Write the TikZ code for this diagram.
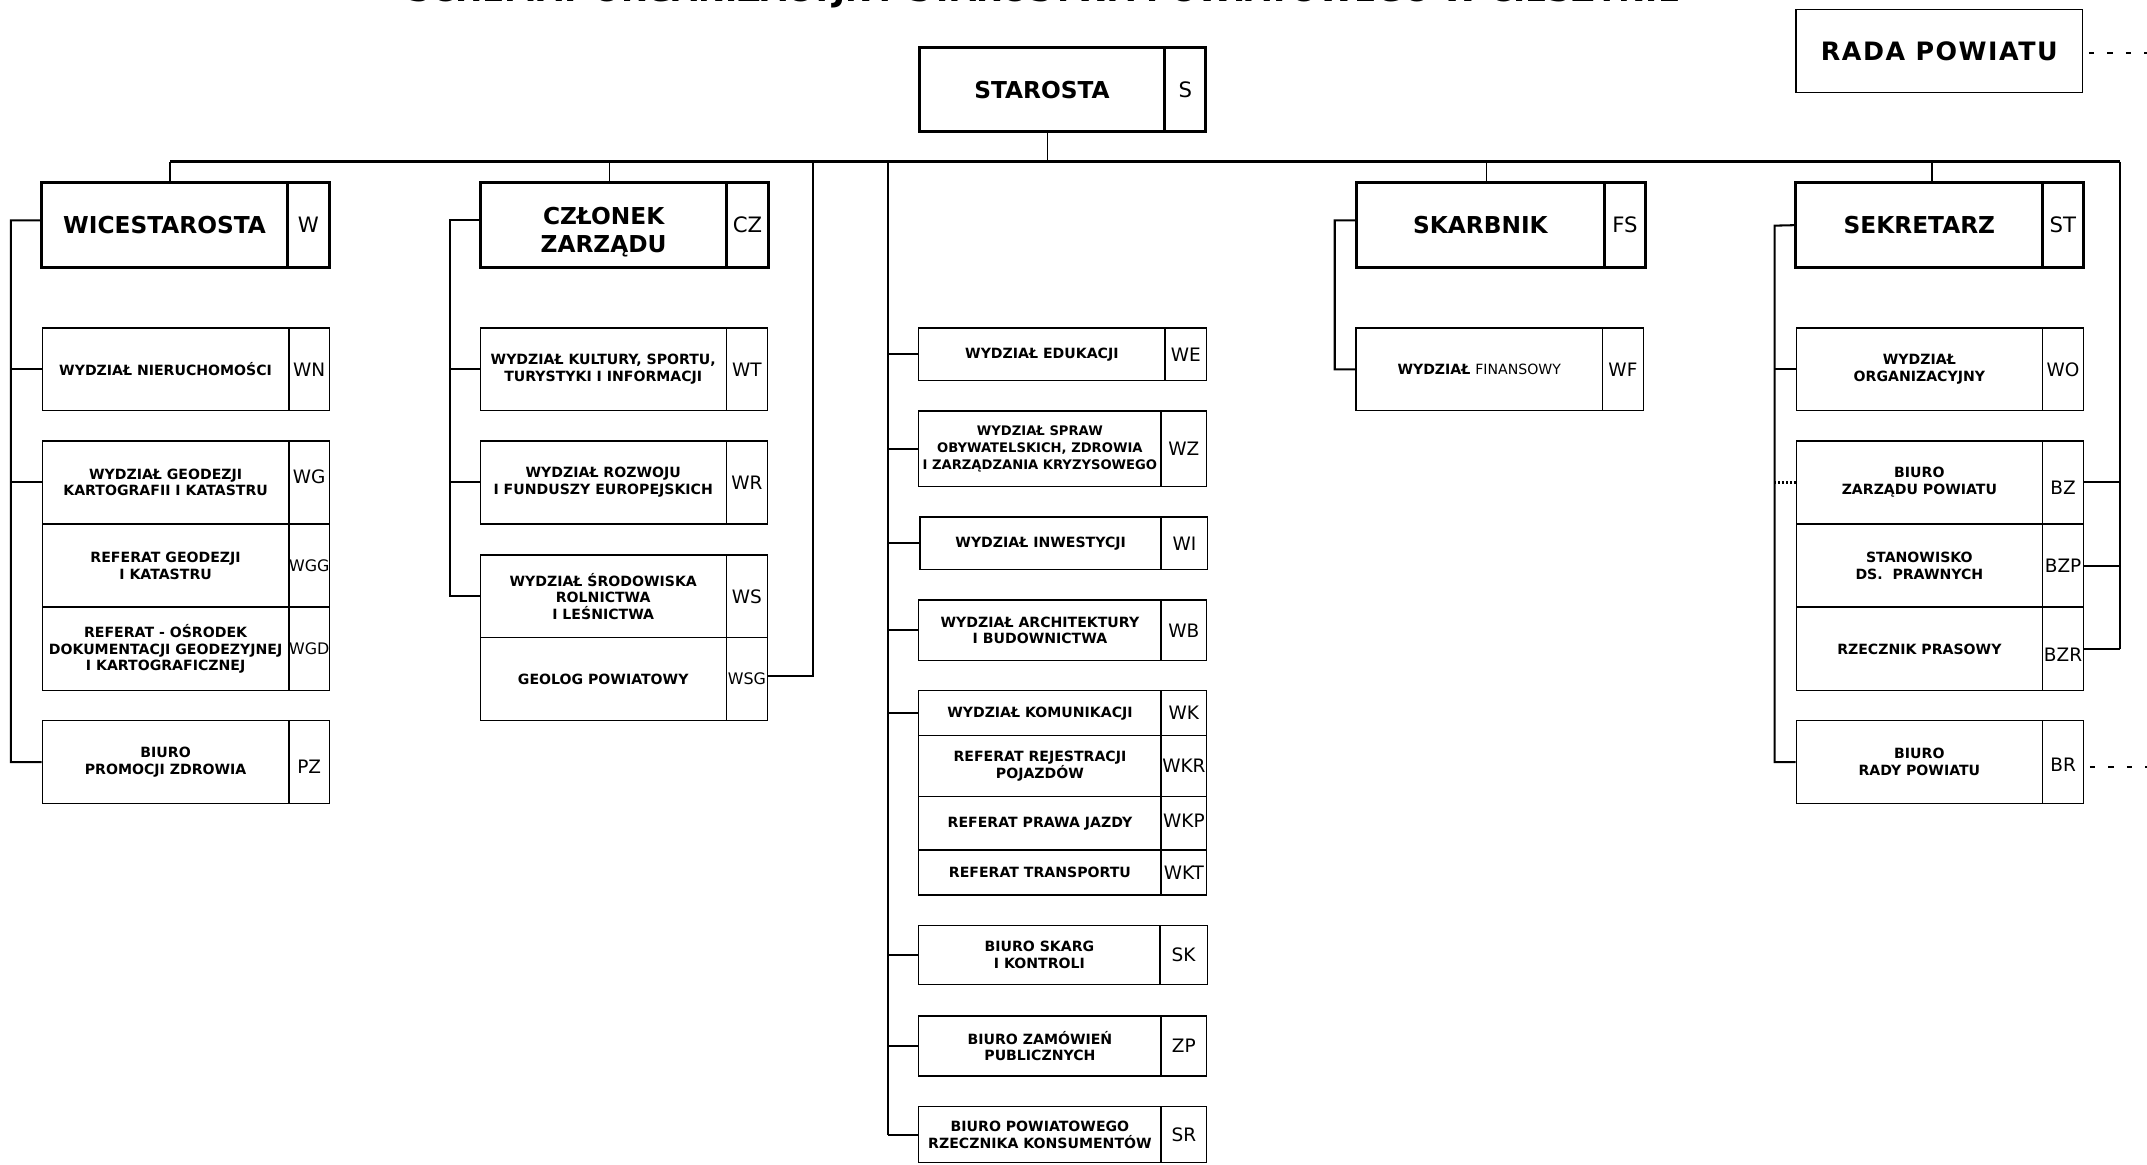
\documentclass[tikz,border=0pt]{standalone}
\usepackage{fontspec}
\setmainfont{DejaVu Sans}
\newcommand{\orgunit}[9]{%
  \node[#2, minimum width={#4-#3}, minimum height={#7-#6}] (#1) at ({(#3+#4)/2},{(#6+#7)/2}) {#8};
  \node[#2code, minimum width={#5-#4}, minimum height={#7-#6}] (#1c) at ({(#4+#5)/2},{(#6+#7)/2}) {#9};
}
\newcommand{\shiftc}[2]{\raisebox{#1}[\height][\depth]{#2}}
\newcommand{\smc}[1]{{\fontsize{11.6}{12}\selectfont #1}}
\tikzset{
  mb/.style={draw=black, line width=2.2pt, inner sep=0pt, align=center, font=\bfseries\fontsize{17}{20}\selectfont},
  mbcode/.style={draw=black, line width=2.2pt, inner sep=0pt, font=\fontsize{15.5}{16}\selectfont},
  mbz/.style={mb, text height=43pt},
  mbzcode/.style={mbcode},
  sb/.style={draw=black, line width=1pt, inner sep=0pt, align=center, font=\bfseries\fontsize{10.3}{12.2}\selectfont},
  sbcode/.style={draw=black, line width=1pt, inner sep=0pt, font=\fontsize{13.5}{14}\selectfont},
  cb/.style={sb, font=\bfseries\fontsize{10.3}{12.2}\selectfont},
  cbcode/.style={sbcode},
  cbs/.style={sb, font=\bfseries\fontsize{9.6}{12.2}\selectfont},
  cbscode/.style={sbcode},
  radabox/.style={draw=black, line width=1pt, inner sep=0pt, font=\bfseries\fontsize{18.5}{20}\selectfont\addfontfeatures{LetterSpace=6}},
  conn/.style={line width=1.5pt},
  drop/.style={line width=1.2pt},
  bus/.style={line width=1.8pt},
  dashline/.style={line width=1.6pt, dash pattern=on 0pt off 4pt on 4pt off 5.5pt},
  dotline/.style={line width=1.6pt, dash pattern=on 1.3pt off 1.5pt},
}
\begin{document}
\begin{tikzpicture}[x=1pt,y=-1pt]
\useasboundingbox (0,0) rectangle (1568,850.1);
% title (only its lower edge is inside the page, as in the reference)
\node[font=\bfseries\fontsize{23.8}{24}\selectfont, anchor=base, inner sep=0pt] (title) at (762.5,1.2) {SCHEMAT ORGANIZACYJNY STAROSTWA POWIATOWEGO W CIESZYNIE};
% council
\node[radabox, minimum width=209.4, minimum height=60.6] (rada) at (1416.3,37.1) {RADA POWIATU};
% main boxes
\orgunit{star}{mb}{671.2}{850.8}{880.7}{34.6}{96.2}{STAROSTA}{S}
\orgunit{wice}{mb}{30.3}{210.1}{240.4}{133.4}{195.5}{WICESTAROSTA}{W}
\orgunit{czl}{mbz}{351.2}{530.5}{561.4}{133.4}{195.5}{CZŁONEK\\ZARZĄDU}{CZ}
\orgunit{skarb}{mb}{990.8}{1171.5}{1201.9}{133.4}{195.5}{SKARBNIK}{FS}
\orgunit{sekr}{mb}{1311.6}{1491.9}{1521.3}{133.4}{195.5}{SEKRETARZ}{ST}
% left column
\orgunit{wn}{sb}{30.9}{211}{240.7}{239.5}{300}{WYDZIAŁ NIERUCHOMOŚCI}{WN}
\orgunit{wg}{sb}{30.9}{211}{240.7}{322}{382.7}{WYDZIAŁ GEODEZJI\\KARTOGRAFII I KATASTRU}{\shiftc{4pt}{WG}}
\orgunit{wgg}{sb}{30.9}{211}{240.7}{382.7}{443.4}{REFERAT GEODEZJI\\I KATASTRU}{\smc{WGG}}
\orgunit{wgd}{sb}{30.9}{211}{240.7}{443.4}{504.4}{REFERAT - OŚRODEK\\DOKUMENTACJI GEODEZYJNEJ\\I KARTOGRAFICZNEJ}{\smc{WGD}}
\orgunit{pz}{sb}{30.9}{211}{240.7}{526.3}{587}{BIURO\\PROMOCJI ZDROWIA}{\shiftc{-3pt}{PZ}}
% member of the board column
\orgunit{wt}{sb}{350.7}{530.4}{560.5}{239.5}{300}{WYDZIAŁ KULTURY, SPORTU,\\TURYSTYKI I INFORMACJI}{WT}
\orgunit{wr}{sb}{350.7}{530.4}{560.5}{322}{382.7}{WYDZIAŁ ROZWOJU\\I FUNDUSZY EUROPEJSKICH}{WR}
\orgunit{ws}{sb}{350.7}{530.4}{560.5}{405.3}{465.7}{WYDZIAŁ ŚRODOWISKA\\ROLNICTWA\\I LEŚNICTWA}{WS}
\orgunit{wsg}{sb}{350.7}{530.4}{560.5}{465.7}{526.3}{GEOLOG POWIATOWY}{\smc{WSG}}
% centre column
\orgunit{we}{cb}{671}{850.8}{881.2}{239.5}{278}{WYDZIAŁ EDUKACJI}{WE}
\orgunit{wz}{cbs}{671}{847.9}{881.2}{300.2}{355.4}{WYDZIAŁ SPRAW\\OBYWATELSKICH, ZDROWIA\\I ZARZĄDZANIA KRYZYSOWEGO}{WZ}
\orgunit{wi}{cb}{672}{848}{882}{377.6}{416}{WYDZIAŁ INWESTYCJI}{WI}
\orgunit{wb}{cb}{671}{848}{881.2}{438.2}{482.5}{WYDZIAŁ ARCHITEKTURY\\I BUDOWNICTWA}{WB}
\orgunit{wk}{cb}{671}{848}{881.2}{504.4}{537.3}{WYDZIAŁ KOMUNIKACJI}{WK}
\orgunit{wkr}{cb}{671}{848}{881.2}{537.3}{581.8}{REFERAT REJESTRACJI\\POJAZDÓW}{WKR}
\orgunit{wkp}{cb}{671}{848}{881.2}{581.8}{620.7}{REFERAT PRAWA JAZDY}{\shiftc{2pt}{WKP}}
\orgunit{wkt}{cb}{671}{848}{881.2}{620.7}{653.6}{REFERAT TRANSPORTU}{WKT}
\orgunit{sk}{cb}{671}{847.2}{881.7}{676}{718.8}{BIURO SKARG\\I KONTROLI}{SK}
\orgunit{zp}{cb}{671}{848}{881.2}{742}{785.8}{BIURO ZAMÓWIEŃ\\PUBLICZNYCH}{ZP}
\orgunit{sr}{cb}{671}{848}{881.2}{808.2}{849}{BIURO POWIATOWEGO\\RZECZNIKA KONSUMENTÓW}{SR}
% treasurer column
\orgunit{wf}{sb}{990.2}{1170.4}{1200.1}{239.5}{300}{WYDZIAŁ {\mdseries FINANSOWY}}{WF}
% secretary column
\orgunit{wo}{sb}{1311.8}{1491.7}{1521.7}{239.5}{300}{WYDZIAŁ\\ORGANIZACYJNY}{WO}
\orgunit{bz}{sb}{1311.8}{1491.7}{1521.7}{322}{382.7}{BIURO\\ZARZĄDU POWIATU}{\shiftc{-4pt}{BZ}}
\orgunit{bzp}{sb}{1311.8}{1491.7}{1521.7}{382.7}{443.4}{STANOWISKO\\DS.~~PRAWNYCH}{BZP}
\orgunit{bzr}{sb}{1311.8}{1491.7}{1521.7}{443.4}{504.4}{RZECZNIK PRASOWY}{\shiftc{-4pt}{BZR}}
\orgunit{br}{sb}{1311.8}{1491.7}{1521.7}{526.3}{587}{BIURO\\RADY POWIATU}{\shiftc{-2pt}{BR}}
% bus
\coordinate (busL) at (124.2,118.1);
\coordinate (busR) at (1548.5,118.1);
\coordinate (dstar) at (764.9,118.1);
\coordinate (dczl) at (445.1,118.1);
\coordinate (dskarb) at (1085.5,118.1);
\coordinate (dsekr) at (1411,118.1);
\coordinate (gv) at (593.7,118.1);
\coordinate (cv) at (648.7,118.1);
\draw[bus] (busL) -- (busR);
\draw[drop] (dstar |- star.south) -- (dstar);
\draw[drop] (busL) -- (busL |- wice.north);
\draw[drop] (dczl) -- (dczl |- czl.north);
\draw[drop] (dskarb) -- (dskarb |- skarb.north);
\draw[drop] (dsekr) -- (dsekr |- sekr.north);
% left tree
\coordinate (lv) at (8,161);
\draw[conn] ([yshift=3.5pt]wice.west) -- (lv) -- (lv |- pz.west) -- (pz.west);
\draw[conn] (lv |- wn.west) -- (wn.west);
\draw[conn] (lv |- wg.west) -- (wg.west);
% board member tree
\coordinate (mv) at (328.5,161);
\coordinate (ch) at (czl.west |- mv);
\draw[conn] (ch) -- (mv) -- (mv |- ws.west) -- (ws.west);
\draw[conn] (mv |- wt.west) -- (wt.west);
\draw[conn] (mv |- wr.west) -- (wr.west);
\coordinate (ge) at ([yshift=2.5pt]wsgc.east);
\draw[conn] (ge) -- (gv |- ge) -- (gv);
% centre tree
\draw[conn] (cv) -- (cv |- sr.west);
\foreach \n in {we,wz,wi,wb,wk,sk,zp,sr} \draw[conn] (cv |- \n.west) -- (\n.west);
% treasurer tree
\coordinate (fv) at (974.8,161);
\draw[conn] ([yshift=3.5pt]skarb.west) -- (fv) -- (fv |- wf.west) -- (wf.west);
% secretary tree
\coordinate (sv) at (1296,164.8);
\draw[conn] (sekr.west) -- (sv) -- (sv |- br.west) -- (br.west);
\draw[conn] (sv |- wo.west) -- (wo.west);
\draw[dotline] (sv |- bz.west) -- (bz.west);
% right line
\draw[conn] (busR) -- (busR |- bzrc.east);
\draw[conn] (bzc.east) -- (busR |- bzc.east);
\draw[conn] (bzpc.east) -- (busR |- bzpc.east);
\draw[conn] (bzrc.east) -- (busR |- bzrc.east);
% dashed links to council
\coordinate (radaend) at (1572,39);
\coordinate (brend) at (1572,559.9);
\draw[dashline] (rada.east |- radaend) -- (radaend);
\draw[dashline] (brc.east |- brend) -- (brend);
\end{tikzpicture}
\end{document}
